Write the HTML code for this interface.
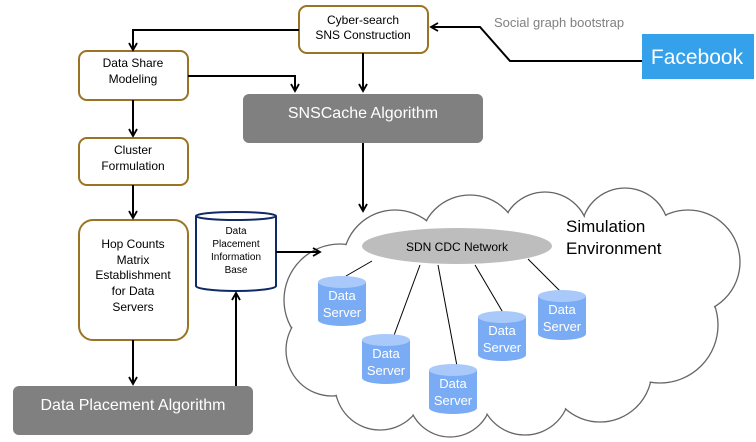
<!DOCTYPE html>
<html><head><style>
html,body{margin:0;padding:0;background:#fff;}
svg{display:block;font-family:"Liberation Sans",Arial,sans-serif;}
</style></head><body>
<svg width="756" height="442" viewBox="0 0 756 442" xmlns="http://www.w3.org/2000/svg">
<defs>
<marker id="a" markerWidth="10" markerHeight="10" refX="8" refY="5" orient="auto" markerUnits="userSpaceOnUse">
<path d="M1,1 L8,5 L1,9" fill="none" stroke="#000" stroke-width="1.8"/>
</marker>
</defs>
<!-- cloud -->
<g stroke="#666" stroke-width="1.3" fill="#fff">
<circle cx="340" cy="300" r="56"/><circle cx="332" cy="350" r="46"/><circle cx="380" cy="385" r="45"/>
<circle cx="450" cy="395" r="42"/><circle cx="525" cy="390" r="45"/><circle cx="600" cy="370" r="52"/>
<circle cx="660" cy="325" r="58"/><circle cx="688" cy="262" r="52"/><circle cx="625" cy="232" r="44"/>
<circle cx="545" cy="236" r="44"/><circle cx="470" cy="245" r="50"/><circle cx="395" cy="262" r="52"/>
</g>
<g fill="#fff">
<circle cx="340" cy="300" r="55"/><circle cx="332" cy="350" r="45"/><circle cx="380" cy="385" r="44"/>
<circle cx="450" cy="395" r="41"/><circle cx="525" cy="390" r="44"/><circle cx="600" cy="370" r="51"/>
<circle cx="660" cy="325" r="57"/><circle cx="688" cy="262" r="51"/><circle cx="625" cy="232" r="43"/>
<circle cx="545" cy="236" r="43"/><circle cx="470" cy="245" r="49"/><circle cx="395" cy="262" r="51"/>
<ellipse cx="510" cy="310" rx="170" ry="90"/>
</g>
<text x="566" y="232" font-size="17" fill="#000">Simulation</text>
<text x="566" y="254" font-size="17" fill="#000">Environment</text>
<!-- server lines -->
<g stroke="#000" stroke-width="1">
<line x1="372" y1="261" x2="346" y2="276"/>
<line x1="420" y1="265" x2="393" y2="338"/>
<line x1="438" y1="265" x2="457" y2="366"/>
<line x1="475" y1="265" x2="505" y2="316"/>
<line x1="528" y1="259" x2="565" y2="296"/>
</g>
<ellipse cx="457" cy="246" rx="95" ry="18" fill="#bdbdbd"/>
<text x="457" y="251" font-size="12" text-anchor="middle">SDN CDC Network</text>
<!-- servers -->
<g font-size="13" fill="#fff" text-anchor="middle">
<g transform="translate(318,276)"><path d="M0,6 V44 A24,6 0 0 0 48,44 V6 Z" fill="#7aabf5"/><ellipse cx="24" cy="6" rx="24" ry="6" fill="#a9c9fa"/><text x="24" y="24">Data</text><text x="24" y="41">Server</text></g>
<g transform="translate(362,334)"><path d="M0,6 V44 A24,6 0 0 0 48,44 V6 Z" fill="#7aabf5"/><ellipse cx="24" cy="6" rx="24" ry="6" fill="#a9c9fa"/><text x="24" y="24">Data</text><text x="24" y="41">Server</text></g>
<g transform="translate(429,364)"><path d="M0,6 V44 A24,6 0 0 0 48,44 V6 Z" fill="#7aabf5"/><ellipse cx="24" cy="6" rx="24" ry="6" fill="#a9c9fa"/><text x="24" y="24">Data</text><text x="24" y="41">Server</text></g>
<g transform="translate(478,311)"><path d="M0,6 V44 A24,6 0 0 0 48,44 V6 Z" fill="#7aabf5"/><ellipse cx="24" cy="6" rx="24" ry="6" fill="#a9c9fa"/><text x="24" y="24">Data</text><text x="24" y="41">Server</text></g>
<g transform="translate(538,290)"><path d="M0,6 V44 A24,6 0 0 0 48,44 V6 Z" fill="#7aabf5"/><ellipse cx="24" cy="6" rx="24" ry="6" fill="#a9c9fa"/><text x="24" y="24">Data</text><text x="24" y="41">Server</text></g>
</g>
<!-- left boxes -->
<g fill="#fff" stroke="#9a7423" stroke-width="2">
<rect x="299" y="6" width="129" height="47" rx="8"/>
<rect x="79" y="51" width="109" height="49" rx="8"/>
<rect x="79" y="138" width="109" height="47" rx="8"/>
<rect x="79" y="220" width="109" height="120" rx="14"/>
</g>
<g font-size="12" text-anchor="middle">
<text x="363" y="24">Cyber-search</text><text x="363" y="39">SNS Construction</text>
<text x="133" y="67">Data Share</text><text x="133" y="83">Modeling</text>
<text x="133" y="154">Cluster</text><text x="133" y="170">Formulation</text>
<text x="133" y="248">Hop Counts</text><text x="133" y="264">Matrix</text><text x="133" y="279">Establishment</text><text x="133" y="295">for Data</text><text x="133" y="311">Servers</text>
</g>
<!-- gray boxes -->
<rect x="243" y="94" width="240" height="49" rx="6" fill="#808080"/>
<text x="363" y="118" font-size="16" fill="#fff" text-anchor="middle">SNSCache Algorithm</text>
<rect x="13" y="386" width="240" height="49" rx="6" fill="#808080"/>
<text x="133" y="410" font-size="16" fill="#fff" text-anchor="middle">Data Placement Algorithm</text>
<!-- DB cylinder -->
<g stroke="#0f2a66" stroke-width="2" fill="#fff">
<path d="M196,216 V286 A40,5 0 0 0 276,286 V216"/>
<ellipse cx="236" cy="216" rx="40" ry="4"/>
</g>
<g font-size="10" text-anchor="middle">
<text x="236" y="234">Data</text><text x="236" y="247">Placement</text><text x="236" y="260">Information</text><text x="236" y="273">Base</text>
</g>
<!-- Facebook -->
<rect x="642" y="34" width="112" height="45" fill="#35a1ea"/>
<text x="697" y="64" font-size="21" fill="#fff" text-anchor="middle">Facebook</text>
<text x="494" y="27" font-size="13" fill="#808080">Social graph bootstrap</text>
<!-- connectors -->
<g stroke="#000" stroke-width="2" fill="none">
<polyline points="642,61 510,61 480,27 431,27" marker-end="url(#a)"/>
<polyline points="299,30 133,30 133,50" marker-end="url(#a)"/>
<line x1="363" y1="53" x2="363" y2="91" marker-end="url(#a)"/>
<polyline points="188,76 295,76 295,91" marker-end="url(#a)"/>
<line x1="133" y1="100" x2="133" y2="136" marker-end="url(#a)"/>
<line x1="133" y1="185" x2="133" y2="218" marker-end="url(#a)"/>
<line x1="133" y1="340" x2="133" y2="384" marker-end="url(#a)"/>
<line x1="363" y1="143" x2="363" y2="211" marker-end="url(#a)"/>
<line x1="276" y1="252" x2="320" y2="252" marker-end="url(#a)"/>
<line x1="236" y1="386" x2="236" y2="293" marker-end="url(#a)"/>
</g>
</svg>
</body></html>
